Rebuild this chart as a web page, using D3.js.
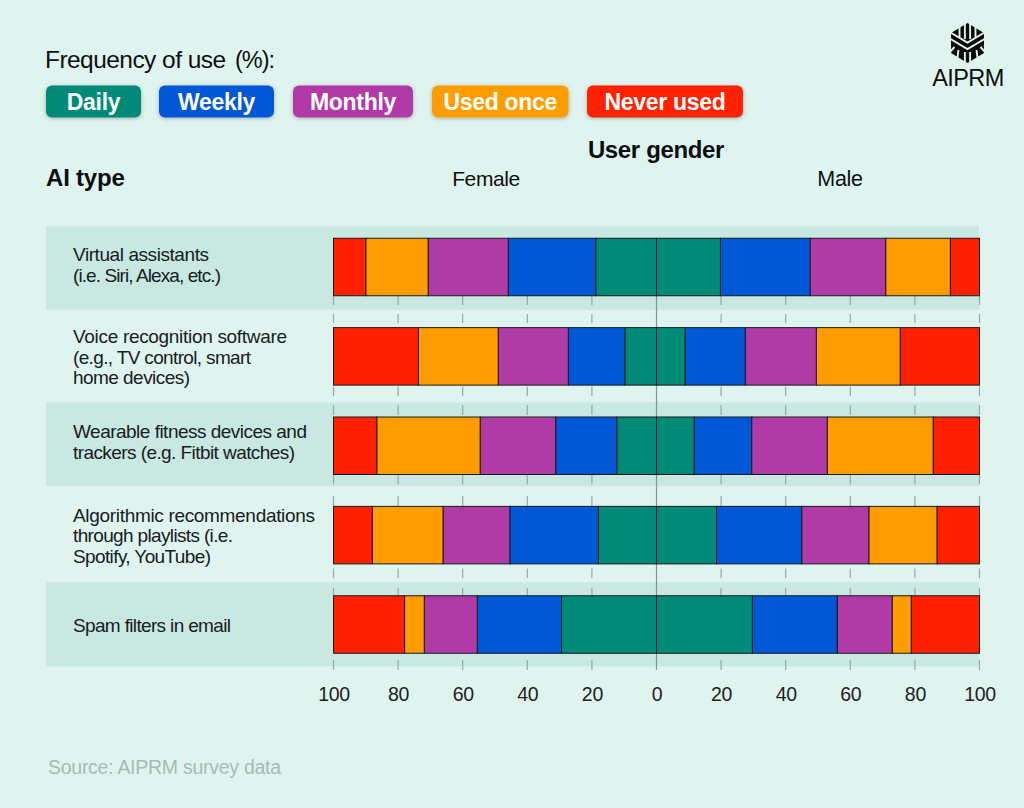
<!DOCTYPE html>
<html><head><meta charset="utf-8">
<script src="https://cdn.jsdelivr.net/npm/d3@7"></script>
<style>
html,body{margin:0;padding:0;background:#e0f4ef;}
svg{display:block;}
text{font-family:"Liberation Sans",Arial,sans-serif;}
</style></head><body>
<svg id="c" width="1024" height="808"></svg>
<script>
const categories = ["Virtual assistants","Voice recognition software","Wearable fitness devices","Algorithmic recommendations","Spam filters"];
const categoryLines = [
  ["Virtual assistants","(i.e. Siri, Alexa, etc.)"],
  ["Voice recognition software","(e.g., TV control, smart","home devices)"],
  ["Wearable fitness devices and","trackers (e.g. Fitbit watches)"],
  ["Algorithmic recommendations","through playlists (i.e.","Spotify, YouTube)"],
  ["Spam filters in email"]
];
const seriesNames = ["Daily","Weekly","Monthly","Used once","Never used"];
const seriesColors = ["#008b78","#0058d6","#b03aa6","#ff9d00","#ff2000"];
const femaleDaily   = [18.8, 9.8,12.3,18.0,29.4];
const femaleWeekly  = [27.1,17.5,18.9,27.4,26.1];
const femaleMonthly = [24.8,21.7,23.4,20.7,16.4];
const femaleOnce    = [19.3,24.7,32.0,21.9, 6.1];
const femaleNever   = [10.0,26.3,13.4,12.0,22.0];
const maleDaily     = [19.8, 8.9,11.7,18.6,29.7];
const maleWeekly    = [27.8,18.6,17.8,26.4,26.3];
const maleMonthly   = [23.4,22.0,23.4,20.8,17.0];
const maleOnce      = [20.0,26.0,32.8,21.1, 5.9];
const maleNever     = [ 9.0,24.5,14.3,13.1,21.1];
const tickValues = [0,20,40,60,80,100];

const female = [femaleDaily,femaleWeekly,femaleMonthly,femaleOnce,femaleNever];
const male = [maleDaily,maleWeekly,maleMonthly,maleOnce,maleNever];

const svg = d3.select("#c");
const bg = "#e0f4ef", bandFill = "#c9e8e2", ink = "#0b0f0f";

const xF = d3.scaleLinear().domain([0,100]).range([656.5,333.5]);
const xM = d3.scaleLinear().domain([0,100]).range([656.5,979.5]);
const y = d3.scalePoint().domain(categories).range([267,624.5]);
const barH = 57.5;

const defs = svg.append("defs");
const f = defs.append("filter").attr("id","sh").attr("x","-10%").attr("y","-20%").attr("width","120%").attr("height","150%");
f.append("feDropShadow").attr("dx",0).attr("dy",1).attr("stdDeviation",2).attr("flood-color","#000").attr("flood-opacity",0.28);

svg.append("rect").attr("width",1024).attr("height",808).attr("fill",bg);

// alternating row bands
const bandTop = {0:-41,2:-43.5,4:-42};
svg.append("g").selectAll("rect").data(categories.filter((d,i)=>i%2===0)).join("rect")
  .attr("x",46).attr("width",933).attr("y",(d,i)=>y(d)+bandTop[i*2]).attr("height",84).attr("fill",bandFill);

// gridline dashes between rows
const dashSpans = [[296,305],[314,323],[386.5,396],[405,415],[475,484.5],[496,506],[568.5,578],[588,596],[660,670]];
const grid = svg.append("g").attr("stroke","#93aaa6").attr("stroke-width",1.2);
[xF,xM].forEach(sc=>{
  tickValues.filter(t=>t>0).forEach(t=>{
    grid.selectAll(null).data(dashSpans).join("line")
      .attr("x1",sc(t)).attr("x2",sc(t)).attr("y1",d=>d[0]).attr("y2",d=>d[1]);
  });
});
// centre line
svg.append("line").attr("x1",xF(0)).attr("x2",xF(0)).attr("y1",y(categories[0])-barH/2).attr("y2",670)
  .attr("stroke","#7f9692").attr("stroke-width",1.2);

// stacked bars
function stack(sc,values,cls){
  categories.forEach((c,ci)=>{
    let acc=0;
    values.forEach((arr,si)=>{
      const a=acc,b=acc+arr[ci]; acc=b;
      svg.append("rect").attr("class",cls)
        .attr("x",Math.min(sc(a),sc(b))).attr("width",Math.abs(sc(b)-sc(a)))
        .attr("y",y(c)-barH/2).attr("height",barH)
        .attr("fill",seriesColors[si]).attr("stroke","#141c1e").attr("stroke-width",1);
    });
  });
}
stack(xF,female,"f"); stack(xM,male,"m");

// axes (labels only)
[xF,xM].forEach((sc,i)=>{
  const g=svg.append("g").attr("transform","translate(0,680)")
    .call(d3.axisBottom(sc).tickValues(i===0?tickValues:tickValues.filter(t=>t>0)).tickSize(0).tickPadding(7).tickFormat(d3.format("d")));
  g.select(".domain").remove();
  g.selectAll("text").attr("font-size",19.5).attr("fill","#1c2222").attr("letter-spacing",-0.3).style("font-family",'"Liberation Sans",Arial,sans-serif');
});

// row labels
const lineOff=[[ -6,15],[ -13.5,7.5,28],[ -7.5,13.5],[ -13.5,7,27.5],[ 7.5]];
const lineWidths=[[136,148],[214,178,117],[234,222],[242,160,138],[158]];
categories.forEach((c,i)=>{
  categoryLines[i].forEach((l,j)=>{
    svg.append("text").attr("x",73).attr("y",y(c)+lineOff[i][j]).text(l)
      .attr("font-size",19).attr("textLength",lineWidths[i][j]).attr("lengthAdjust","spacing").attr("fill","#16201f");
  });
});

// legend
svg.append("text").attr("x",45).attr("y",68).text("Frequency of use")
  .attr("font-size",24.5).attr("letter-spacing",-0.55).attr("fill",ink);
svg.append("text").attr("x",235).attr("y",68).text("(%):")
  .attr("font-size",23.5).attr("letter-spacing",-1).attr("fill",ink);
const legendBoxes=[[46,95],[159,115],[293,120],[432,136.5],[587,156]];
const leg=svg.append("g").selectAll("g").data(seriesNames).join("g");
leg.append("rect").attr("x",(d,i)=>legendBoxes[i][0]).attr("width",(d,i)=>legendBoxes[i][1])
  .attr("y",85.5).attr("height",32).attr("rx",6).attr("fill",(d,i)=>seriesColors[i]).attr("filter","url(#sh)");
leg.append("text").attr("x",(d,i)=>legendBoxes[i][0]+legendBoxes[i][1]/2).attr("y",109.5).attr("text-anchor","middle")
  .text(d=>d).attr("font-size",23).attr("font-weight",700).attr("letter-spacing",-0.3).attr("fill","#fff");

// headers
svg.append("text").attr("x",656).attr("y",158).attr("text-anchor","middle").text("User gender")
  .attr("font-size",24).attr("font-weight",700).attr("letter-spacing",-0.35).attr("fill",ink);
svg.append("text").attr("x",46).attr("y",186).text("AI type")
  .attr("font-size",24).attr("font-weight",700).attr("letter-spacing",-0.2).attr("fill",ink);
svg.append("text").attr("x",486).attr("y",186).attr("text-anchor","middle").text("Female")
  .attr("font-size",21).attr("letter-spacing",-0.4).attr("fill",ink);
svg.append("text").attr("x",840).attr("y",186).attr("text-anchor","middle").text("Male")
  .attr("font-size",21.5).attr("letter-spacing",-0.3).attr("fill",ink);

// source
svg.append("text").attr("x",48).attr("y",774).text("Source: AIPRM survey data")
  .attr("font-size",19.5).attr("letter-spacing",-0.27).attr("fill","#a7bbb7");

// logo
const logo=svg.append("g").attr("transform","translate(967.5,43)");
const hexPts=d3.range(6).map(i=>{const a=Math.PI/3*i-Math.PI/2;return [19*Math.cos(a),20*Math.sin(a)];});
logo.append("path").attr("d","M"+hexPts.map(p=>p.join(",")).join("L")+"Z").attr("fill","#0a0a0a");
const stripe=(x1,y1,x2,y2,w)=>logo.append("line").attr("x1",x1).attr("y1",y1).attr("x2",x2).attr("y2",y2).attr("stroke",bg).attr("stroke-width",w);
stripe(-2.6,-22,-2.6,-4,1.9); stripe(2.6,-22,2.6,-4,1.9);
stripe(-8,-22,-8,-6,1.9); stripe(8,-22,8,-6,1.9);
[-8.5,-2].forEach(d=>{
  logo.append("path").attr("d",`M-22,${d-5}L0,${d+8}L22,${d-5}`).attr("fill","none").attr("stroke",bg).attr("stroke-width",2);
});
stripe(-2.6,9,-2.6,23,1.9); stripe(2.6,9,2.6,23,1.9);
stripe(-9,7,-11,22,1.9); stripe(9,7,11,22,1.9);
stripe(-13,4,-22,14,1.9); stripe(13,4,22,14,1.9);

svg.append("text").attr("x",968).attr("y",86).attr("text-anchor","middle").text("AIPRM")
  .attr("font-size",23.5).attr("letter-spacing",-0.6).attr("fill",ink);
</script>
</body></html>
